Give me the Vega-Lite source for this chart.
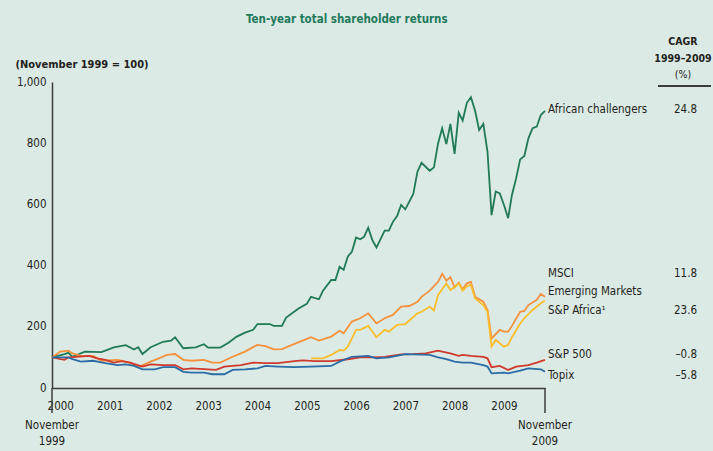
{
  "$schema": "https://vega.github.io/schema/vega-lite/v6.json",
  "width": 493,
  "height": 306,
  "autosize": {"type": "none"},
  "padding": {"left": 52, "top": 82, "right": 168, "bottom": 63},
  "background": "#dbeae5",
  "config": {
    "view": {"stroke": null},
    "font": "DejaVu Sans Condensed, DejaVu Sans, sans-serif",
    "text": {"font": "DejaVu Sans Condensed, DejaVu Sans, sans-serif", "fontSize": 11.5, "color": "#231f20"}
  },
  "title": {
    "text": "Ten-year total shareholder returns",
    "anchor": "start",
    "dx": 231,
    "color": "#1f7a5c",
    "fontSize": 11.5,
    "fontWeight": "bold",
    "font": "DejaVu Sans Condensed, DejaVu Sans, sans-serif",
    "offset": 11
  },
  "datasets": {
    "series": [
      {"s":"AC","d":"1999-11-01","v":100},{"s":"AC","d":"2000-02-01","v":111},{"s":"AC","d":"2000-03-01","v":115},{"s":"AC","d":"2000-04-01","v":102},{"s":"AC","d":"2000-07-01","v":119},{"s":"AC","d":"2000-11-01","v":117},{"s":"AC","d":"2001-02-01","v":133},{"s":"AC","d":"2001-05-01","v":140},{"s":"AC","d":"2001-07-01","v":126},{"s":"AC","d":"2001-08-01","v":133},{"s":"AC","d":"2001-09-01","v":111},{"s":"AC","d":"2001-11-01","v":133},{"s":"AC","d":"2002-02-01","v":151},{"s":"AC","d":"2002-04-01","v":155},{"s":"AC","d":"2002-05-01","v":166},{"s":"AC","d":"2002-07-01","v":130},{"s":"AC","d":"2002-10-01","v":133},{"s":"AC","d":"2002-12-01","v":143},{"s":"AC","d":"2003-01-01","v":132},{"s":"AC","d":"2003-04-01","v":132},{"s":"AC","d":"2003-06-01","v":148},{"s":"AC","d":"2003-08-01","v":168},{"s":"AC","d":"2003-10-01","v":181},{"s":"AC","d":"2003-12-01","v":190},{"s":"AC","d":"2004-01-01","v":209},{"s":"AC","d":"2004-04-01","v":209},{"s":"AC","d":"2004-05-01","v":203},{"s":"AC","d":"2004-07-01","v":203},{"s":"AC","d":"2004-08-01","v":230},{"s":"AC","d":"2004-11-01","v":260},{"s":"AC","d":"2005-01-01","v":275},{"s":"AC","d":"2005-02-01","v":298},{"s":"AC","d":"2005-04-01","v":290},{"s":"AC","d":"2005-05-01","v":318},{"s":"AC","d":"2005-07-01","v":353},{"s":"AC","d":"2005-08-01","v":353},{"s":"AC","d":"2005-09-01","v":396},{"s":"AC","d":"2005-10-01","v":386},{"s":"AC","d":"2005-11-01","v":430},{"s":"AC","d":"2005-12-01","v":445},{"s":"AC","d":"2006-01-01","v":492},{"s":"AC","d":"2006-02-01","v":486},{"s":"AC","d":"2006-03-01","v":494},{"s":"AC","d":"2006-04-01","v":524},{"s":"AC","d":"2006-05-01","v":484},{"s":"AC","d":"2006-06-01","v":459},{"s":"AC","d":"2006-08-01","v":514},{"s":"AC","d":"2006-09-01","v":514},{"s":"AC","d":"2006-10-01","v":543},{"s":"AC","d":"2006-11-01","v":562},{"s":"AC","d":"2006-12-01","v":598},{"s":"AC","d":"2007-01-01","v":584},{"s":"AC","d":"2007-03-01","v":634},{"s":"AC","d":"2007-04-01","v":707},{"s":"AC","d":"2007-05-01","v":736},{"s":"AC","d":"2007-07-01","v":710},{"s":"AC","d":"2007-08-01","v":721},{"s":"AC","d":"2007-09-01","v":800},{"s":"AC","d":"2007-10-01","v":849},{"s":"AC","d":"2007-11-01","v":797},{"s":"AC","d":"2007-12-01","v":863},{"s":"AC","d":"2008-01-01","v":765},{"s":"AC","d":"2008-02-01","v":900},{"s":"AC","d":"2008-03-01","v":874},{"s":"AC","d":"2008-04-01","v":932},{"s":"AC","d":"2008-05-01","v":950},{"s":"AC","d":"2008-06-01","v":906},{"s":"AC","d":"2008-07-01","v":843},{"s":"AC","d":"2008-08-01","v":863},{"s":"AC","d":"2008-09-01","v":772},{"s":"AC","d":"2008-10-01","v":565},{"s":"AC","d":"2008-11-01","v":642},{"s":"AC","d":"2008-12-01","v":636},{"s":"AC","d":"2009-01-01","v":598},{"s":"AC","d":"2009-02-01","v":555},{"s":"AC","d":"2009-03-01","v":631},{"s":"AC","d":"2009-04-01","v":685},{"s":"AC","d":"2009-05-01","v":747},{"s":"AC","d":"2009-06-01","v":758},{"s":"AC","d":"2009-07-01","v":816},{"s":"AC","d":"2009-08-01","v":849},{"s":"AC","d":"2009-09-01","v":854},{"s":"AC","d":"2009-10-01","v":892},{"s":"AC","d":"2009-11-01","v":906},

      {"s":"MSCI","d":"1999-11-01","v":100},{"s":"MSCI","d":"2000-01-01","v":119},{"s":"MSCI","d":"2000-03-01","v":122},{"s":"MSCI","d":"2000-04-01","v":113},{"s":"MSCI","d":"2000-06-01","v":105},{"s":"MSCI","d":"2000-09-01","v":105},{"s":"MSCI","d":"2000-11-01","v":89},{"s":"MSCI","d":"2001-03-01","v":92},{"s":"MSCI","d":"2001-06-01","v":83},{"s":"MSCI","d":"2001-08-01","v":68},{"s":"MSCI","d":"2001-11-01","v":86},{"s":"MSCI","d":"2002-01-01","v":97},{"s":"MSCI","d":"2002-03-01","v":108},{"s":"MSCI","d":"2002-05-01","v":111},{"s":"MSCI","d":"2002-07-01","v":92},{"s":"MSCI","d":"2002-09-01","v":89},{"s":"MSCI","d":"2002-12-01","v":92},{"s":"MSCI","d":"2003-02-01","v":83},{"s":"MSCI","d":"2003-04-01","v":83},{"s":"MSCI","d":"2003-07-01","v":102},{"s":"MSCI","d":"2003-10-01","v":119},{"s":"MSCI","d":"2004-01-01","v":141},{"s":"MSCI","d":"2004-03-01","v":137},{"s":"MSCI","d":"2004-05-01","v":126},{"s":"MSCI","d":"2004-07-01","v":127},{"s":"MSCI","d":"2004-10-01","v":144},{"s":"MSCI","d":"2004-12-01","v":155},{"s":"MSCI","d":"2005-02-01","v":166},{"s":"MSCI","d":"2005-04-01","v":155},{"s":"MSCI","d":"2005-07-01","v":168},{"s":"MSCI","d":"2005-09-01","v":187},{"s":"MSCI","d":"2005-10-01","v":179},{"s":"MSCI","d":"2005-12-01","v":217},{"s":"MSCI","d":"2006-02-01","v":228},{"s":"MSCI","d":"2006-04-01","v":244},{"s":"MSCI","d":"2006-06-01","v":211},{"s":"MSCI","d":"2006-08-01","v":228},{"s":"MSCI","d":"2006-10-01","v":239},{"s":"MSCI","d":"2006-12-01","v":266},{"s":"MSCI","d":"2007-02-01","v":268},{"s":"MSCI","d":"2007-04-01","v":282},{"s":"MSCI","d":"2007-05-01","v":298},{"s":"MSCI","d":"2007-07-01","v":318},{"s":"MSCI","d":"2007-09-01","v":347},{"s":"MSCI","d":"2007-10-01","v":373},{"s":"MSCI","d":"2007-11-01","v":351},{"s":"MSCI","d":"2007-12-01","v":362},{"s":"MSCI","d":"2008-01-01","v":329},{"s":"MSCI","d":"2008-02-01","v":344},{"s":"MSCI","d":"2008-03-01","v":323},{"s":"MSCI","d":"2008-04-01","v":342},{"s":"MSCI","d":"2008-05-01","v":347},{"s":"MSCI","d":"2008-06-01","v":298},{"s":"MSCI","d":"2008-08-01","v":282},{"s":"MSCI","d":"2008-09-01","v":255},{"s":"MSCI","d":"2008-10-01","v":162},{"s":"MSCI","d":"2008-12-01","v":190},{"s":"MSCI","d":"2009-01-01","v":184},{"s":"MSCI","d":"2009-02-01","v":184},{"s":"MSCI","d":"2009-03-01","v":203},{"s":"MSCI","d":"2009-05-01","v":249},{"s":"MSCI","d":"2009-06-01","v":252},{"s":"MSCI","d":"2009-07-01","v":271},{"s":"MSCI","d":"2009-09-01","v":288},{"s":"MSCI","d":"2009-10-01","v":307},{"s":"MSCI","d":"2009-11-01","v":298},

      {"s":"SPA","d":"2005-02-01","v":97},{"s":"SPA","d":"2005-05-01","v":97},{"s":"SPA","d":"2005-07-01","v":108},{"s":"SPA","d":"2005-09-01","v":124},{"s":"SPA","d":"2005-10-01","v":122},{"s":"SPA","d":"2005-11-01","v":135},{"s":"SPA","d":"2006-01-01","v":190},{"s":"SPA","d":"2006-02-01","v":190},{"s":"SPA","d":"2006-04-01","v":203},{"s":"SPA","d":"2006-06-01","v":166},{"s":"SPA","d":"2006-08-01","v":190},{"s":"SPA","d":"2006-09-01","v":184},{"s":"SPA","d":"2006-11-01","v":206},{"s":"SPA","d":"2007-01-01","v":209},{"s":"SPA","d":"2007-04-01","v":244},{"s":"SPA","d":"2007-05-01","v":249},{"s":"SPA","d":"2007-07-01","v":266},{"s":"SPA","d":"2007-08-01","v":253},{"s":"SPA","d":"2007-09-01","v":304},{"s":"SPA","d":"2007-11-01","v":342},{"s":"SPA","d":"2007-12-01","v":320},{"s":"SPA","d":"2008-01-01","v":330},{"s":"SPA","d":"2008-02-01","v":342},{"s":"SPA","d":"2008-03-01","v":318},{"s":"SPA","d":"2008-04-01","v":333},{"s":"SPA","d":"2008-05-01","v":337},{"s":"SPA","d":"2008-06-01","v":293},{"s":"SPA","d":"2008-08-01","v":271},{"s":"SPA","d":"2008-09-01","v":249},{"s":"SPA","d":"2008-10-01","v":135},{"s":"SPA","d":"2008-11-01","v":157},{"s":"SPA","d":"2009-01-01","v":135},{"s":"SPA","d":"2009-02-01","v":141},{"s":"SPA","d":"2009-03-01","v":166},{"s":"SPA","d":"2009-05-01","v":211},{"s":"SPA","d":"2009-06-01","v":228},{"s":"SPA","d":"2009-08-01","v":255},{"s":"SPA","d":"2009-10-01","v":277},{"s":"SPA","d":"2009-11-01","v":285},

      {"s":"SP500","d":"1999-11-01","v":100},{"s":"SP500","d":"2000-02-01","v":92},{"s":"SP500","d":"2000-03-01","v":100},{"s":"SP500","d":"2000-05-01","v":102},{"s":"SP500","d":"2000-08-01","v":105},{"s":"SP500","d":"2000-10-01","v":97},{"s":"SP500","d":"2000-12-01","v":92},{"s":"SP500","d":"2001-02-01","v":83},{"s":"SP500","d":"2001-04-01","v":88},{"s":"SP500","d":"2001-06-01","v":83},{"s":"SP500","d":"2001-09-01","v":70},{"s":"SP500","d":"2001-11-01","v":77},{"s":"SP500","d":"2002-02-01","v":75},{"s":"SP500","d":"2002-05-01","v":75},{"s":"SP500","d":"2002-07-01","v":61},{"s":"SP500","d":"2002-09-01","v":64},{"s":"SP500","d":"2002-12-01","v":62},{"s":"SP500","d":"2003-03-01","v":59},{"s":"SP500","d":"2003-05-01","v":70},{"s":"SP500","d":"2003-09-01","v":75},{"s":"SP500","d":"2003-12-01","v":83},{"s":"SP500","d":"2004-03-01","v":81},{"s":"SP500","d":"2004-06-01","v":81},{"s":"SP500","d":"2004-10-01","v":88},{"s":"SP500","d":"2004-12-01","v":90},{"s":"SP500","d":"2005-03-01","v":88},{"s":"SP500","d":"2005-07-01","v":88},{"s":"SP500","d":"2005-11-01","v":94},{"s":"SP500","d":"2006-02-01","v":100},{"s":"SP500","d":"2006-05-01","v":100},{"s":"SP500","d":"2006-08-01","v":102},{"s":"SP500","d":"2006-12-01","v":110},{"s":"SP500","d":"2007-03-01","v":111},{"s":"SP500","d":"2007-06-01","v":113},{"s":"SP500","d":"2007-09-01","v":122},{"s":"SP500","d":"2007-10-01","v":119},{"s":"SP500","d":"2007-12-01","v":113},{"s":"SP500","d":"2008-02-01","v":105},{"s":"SP500","d":"2008-03-01","v":108},{"s":"SP500","d":"2008-05-01","v":105},{"s":"SP500","d":"2008-08-01","v":102},{"s":"SP500","d":"2008-09-01","v":97},{"s":"SP500","d":"2008-10-01","v":68},{"s":"SP500","d":"2008-12-01","v":72},{"s":"SP500","d":"2009-02-01","v":59},{"s":"SP500","d":"2009-04-01","v":70},{"s":"SP500","d":"2009-07-01","v":75},{"s":"SP500","d":"2009-09-01","v":83},{"s":"SP500","d":"2009-11-01","v":92},

      {"s":"TPX","d":"1999-11-01","v":100},{"s":"TPX","d":"2000-03-01","v":100},{"s":"TPX","d":"2000-04-01","v":94},{"s":"TPX","d":"2000-06-01","v":86},{"s":"TPX","d":"2000-09-01","v":89},{"s":"TPX","d":"2000-12-01","v":81},{"s":"TPX","d":"2001-03-01","v":75},{"s":"TPX","d":"2001-05-01","v":77},{"s":"TPX","d":"2001-07-01","v":72},{"s":"TPX","d":"2001-09-01","v":61},{"s":"TPX","d":"2001-12-01","v":61},{"s":"TPX","d":"2002-02-01","v":68},{"s":"TPX","d":"2002-05-01","v":68},{"s":"TPX","d":"2002-07-01","v":53},{"s":"TPX","d":"2002-09-01","v":50},{"s":"TPX","d":"2002-12-01","v":50},{"s":"TPX","d":"2003-02-01","v":45},{"s":"TPX","d":"2003-05-01","v":45},{"s":"TPX","d":"2003-07-01","v":59},{"s":"TPX","d":"2003-10-01","v":61},{"s":"TPX","d":"2004-01-01","v":64},{"s":"TPX","d":"2004-03-01","v":72},{"s":"TPX","d":"2004-06-01","v":70},{"s":"TPX","d":"2004-10-01","v":68},{"s":"TPX","d":"2005-02-01","v":70},{"s":"TPX","d":"2005-07-01","v":72},{"s":"TPX","d":"2005-09-01","v":86},{"s":"TPX","d":"2005-12-01","v":102},{"s":"TPX","d":"2006-04-01","v":105},{"s":"TPX","d":"2006-06-01","v":97},{"s":"TPX","d":"2006-09-01","v":100},{"s":"TPX","d":"2007-01-01","v":111},{"s":"TPX","d":"2007-07-01","v":108},{"s":"TPX","d":"2007-09-01","v":100},{"s":"TPX","d":"2007-11-01","v":94},{"s":"TPX","d":"2008-01-01","v":86},{"s":"TPX","d":"2008-03-01","v":83},{"s":"TPX","d":"2008-05-01","v":83},{"s":"TPX","d":"2008-08-01","v":75},{"s":"TPX","d":"2008-09-01","v":70},{"s":"TPX","d":"2008-10-01","v":48},{"s":"TPX","d":"2009-01-01","v":50},{"s":"TPX","d":"2009-02-01","v":48},{"s":"TPX","d":"2009-05-01","v":57},{"s":"TPX","d":"2009-07-01","v":64},{"s":"TPX","d":"2009-10-01","v":61},{"s":"TPX","d":"2009-11-01","v":53}
    ],
    "labels": [
      {"label": "African challengers", "yv": 908, "cagr": "24.8"},
      {"label": "MSCI", "yv": 372, "cagr": "11.8"},
      {"label": "Emerging Markets", "yv": 314, "cagr": ""},
      {"label": "S&P Africa¹", "yv": 252, "cagr": "23.6"},
      {"label": "S&P 500", "yv": 108, "cagr": "–0.8"},
      {"label": "Topix", "yv": 39, "cagr": "–5.8"}
    ],
    "ends": [
      {"d": "1999-11-01", "t": "November\n1999"},
      {"d": "2009-11-01", "t": "November\n2009"}
    ]
  },
  "layer": [
    {
      "data": {"name": "series"},
      "mark": {"type": "line", "strokeWidth": 1.8, "interpolate": "linear"},
      "encoding": {
        "x": {
          "field": "d",
          "type": "temporal",
          "scale": {"type": "utc", "domain": [{"year": 1999, "month": 11, "date": 1, "utc": true}, {"year": 2009, "month": 11, "date": 1, "utc": true}], "nice": false},
          "axis": {
            "title": null,
            "format": "%Y",
            "tickCount": {"interval": "year", "step": 1},
            "ticks": false,
            "grid": false,
            "labelPadding": 12,
            "labelFontSize": 11.5,
            "labelColor": "#231f20",
            "labelFont": "DejaVu Sans Condensed, DejaVu Sans, sans-serif",
            "labelFlush": false,
            "labelOverlap": false,
            "domainColor": "#3c3c3c",
            "domainWidth": 1.5
          }
        },
        "y": {
          "field": "v",
          "type": "quantitative",
          "scale": {"domain": [0, 1000], "nice": false},
          "axis": {
            "title": "(November 1999 = 100)",
            "titleAngle": 0,
            "titleAlign": "left",
            "titleBaseline": "middle",
            "titleX": -37,
            "titleY": -18,
            "titleFont": "DejaVu Sans Condensed, DejaVu Sans, sans-serif",
            "titleFontSize": 11,
            "titleFontWeight": "bold",
            "titleColor": "#231f20",
            "values": [0, 200, 400, 600, 800, 1000],
            "format": ",d",
            "ticks": false,
            "grid": false,
            "labelPadding": 6,
            "labelFontSize": 11.5,
            "labelColor": "#231f20",
            "labelFont": "DejaVu Sans Condensed, DejaVu Sans, sans-serif",
            "domainColor": "#3c3c3c",
            "domainWidth": 1.5
          }
        },
        "color": {
          "field": "s",
          "type": "nominal",
          "scale": {"domain": ["TPX", "SP500", "SPA", "MSCI", "AC"], "range": ["#2b6ca6", "#cf3a2c", "#fbbd2c", "#f6913b", "#1f7a55"]},
          "legend": null
        }
      }
    },
    {
      "data": {"name": "labels"},
      "mark": {"type": "text", "align": "left", "baseline": "middle", "dx": 3},
      "encoding": {
        "x": {"datum": {"year": 2009, "month": 11, "date": 1, "utc": true}, "type": "temporal"},
        "y": {"field": "yv", "type": "quantitative"},
        "text": {"field": "label"}
      }
    },
    {
      "data": {"name": "labels"},
      "mark": {"type": "text", "align": "right", "baseline": "middle", "dx": 152},
      "encoding": {
        "x": {"datum": {"year": 2009, "month": 11, "date": 1, "utc": true}, "type": "temporal"},
        "y": {"field": "yv", "type": "quantitative"},
        "text": {"field": "cagr"}
      }
    },
    {
      "data": {"values": [{"t": "CAGR\n1999–2009"}]},
      "mark": {"type": "text", "align": "center", "baseline": "middle", "dx": 138, "fontWeight": "bold", "fontSize": 10.5, "lineBreak": "\n", "lineHeight": 17},
      "encoding": {
        "x": {"datum": {"year": 2009, "month": 11, "date": 1, "utc": true}, "type": "temporal"},
        "y": {"datum": 1131},
        "text": {"field": "t"}
      }
    },
    {
      "data": {"values": [{"t": "(%)"}]},
      "mark": {"type": "text", "align": "center", "baseline": "middle", "dx": 138, "fontSize": 10.5},
      "encoding": {
        "x": {"datum": {"year": 2009, "month": 11, "date": 1, "utc": true}, "type": "temporal"},
        "y": {"datum": 1023},
        "text": {"field": "t"}
      }
    },
    {
      "data": {"values": [{}]},
      "mark": {"type": "rule", "color": "#3c3c3c", "strokeWidth": 2, "xOffset": 113, "x2Offset": 166},
      "encoding": {
        "x": {"datum": {"year": 2009, "month": 11, "date": 1, "utc": true}, "type": "temporal"},
        "x2": {"datum": {"year": 2009, "month": 11, "date": 1, "utc": true}},
        "y": {"datum": 987}
      }
    },
    {
      "data": {"name": "ends"},
      "mark": {"type": "rule", "color": "#3c3c3c", "strokeWidth": 1.5},
      "encoding": {
        "x": {"field": "d", "type": "temporal"},
        "y": {"datum": 0},
        "y2": {"datum": -82}
      }
    },
    {
      "data": {"name": "ends"},
      "mark": {"type": "text", "align": "center", "baseline": "top", "dy": 32, "lineBreak": "\n", "lineHeight": 16},
      "encoding": {
        "x": {"field": "d", "type": "temporal"},
        "y": {"datum": 0},
        "text": {"field": "t"}
      }
    }
  ]
}
